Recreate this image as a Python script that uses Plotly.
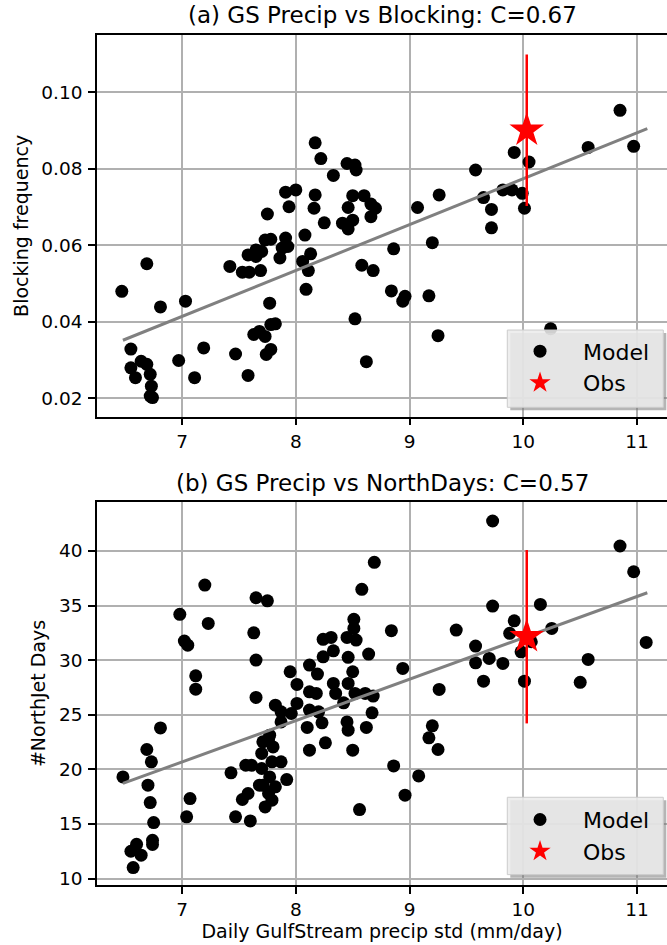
import plotly.graph_objects as go

# ---------------- data ----------------
blk_x = [6.47, 6.69, 6.81, 7.03, 6.55, 6.55, 6.59, 6.64, 6.69, 6.72, 6.73, 6.72, 6.74,
         6.97, 7.11, 7.19, 7.47, 7.58, 7.42, 7.53, 7.59, 7.69, 7.58, 7.65, 7.70, 7.65,
         7.73, 7.78, 7.75, 7.77, 7.63, 7.68, 7.73, 7.78, 7.82, 7.78, 7.74, 7.86, 7.88,
         7.91, 7.93, 7.91, 8.00, 7.94, 8.08, 8.06, 8.13, 8.11, 8.09, 8.17, 8.22, 8.17,
         8.16, 8.25, 8.33, 8.45, 8.52, 8.53, 8.50, 8.60, 8.46, 8.66, 8.70, 8.66, 8.41,
         8.46, 8.50, 8.58, 8.68, 8.52, 8.62, 8.86, 8.84, 9.07, 9.26, 9.20, 8.94, 8.96,
         9.17, 9.25, 9.58, 9.65, 9.72, 9.72, 9.82, 9.90, 9.92, 9.99, 10.01, 10.05, 10.24,
         10.57, 10.85, 10.97]
blk_y = [0.0480, 0.0552, 0.0439, 0.0454, 0.0329, 0.0280, 0.0254, 0.0297, 0.0289, 0.0263,
         0.0232, 0.0206, 0.0202, 0.0299, 0.0254, 0.0332, 0.0316, 0.0260, 0.0545, 0.0530,
         0.0530, 0.0534, 0.0575, 0.0571, 0.0584, 0.0588, 0.0614, 0.0616, 0.0682, 0.0449,
         0.0367, 0.0375, 0.0362, 0.0393, 0.0395, 0.0328, 0.0315, 0.0567, 0.0593, 0.0619,
         0.0597, 0.0739, 0.0745, 0.0701, 0.0627, 0.0558, 0.0578, 0.0534, 0.0485, 0.0868,
         0.0827, 0.0732, 0.0697, 0.0659, 0.0783, 0.0814, 0.0810, 0.0797, 0.0730, 0.0730,
         0.0699, 0.0708, 0.0697, 0.0675, 0.0658, 0.0643, 0.0666, 0.0548, 0.0534, 0.0408,
         0.0296, 0.0591, 0.0481, 0.0699, 0.0732, 0.0607, 0.0454, 0.0467, 0.0468, 0.0364,
         0.0797, 0.0725, 0.0694, 0.0646, 0.0745, 0.0745, 0.0843, 0.0736, 0.0697, 0.0818,
         0.0382, 0.0856, 0.0953, 0.0859]

nj_x = [6.48, 6.57, 6.55, 6.60, 6.64, 6.69, 6.73, 6.70, 6.72, 6.75, 6.74, 6.74, 6.81,
        6.98, 7.02, 7.05, 7.12, 7.12, 7.07, 7.04, 7.20, 7.23, 7.65, 7.75, 7.63, 7.65,
        7.65, 7.43, 7.47, 7.60, 7.53, 7.58, 7.56, 7.61, 7.70, 7.70, 7.71, 7.76, 7.80,
        7.77, 7.87, 7.79, 7.77, 7.71, 7.68, 7.82, 7.76, 7.79, 7.73, 7.92, 7.82, 7.87,
        7.87, 7.95, 8.01, 8.01, 7.96, 8.10, 8.12, 8.12, 8.12, 8.18, 8.19, 8.12, 8.20,
        8.23, 8.26, 8.24, 8.31, 8.33, 8.24, 8.33, 8.35, 8.42, 8.46, 8.50, 8.52, 8.45,
        8.46, 8.50, 8.46, 8.45, 8.51, 8.51, 8.53, 8.58, 8.69, 8.64, 8.61, 8.68, 8.67,
        8.62, 8.56, 8.84, 8.86, 9.73, 8.94, 8.96, 9.08, 9.26, 9.20, 9.17, 9.25, 9.41,
        9.58, 9.58, 9.70, 9.65, 9.82, 9.73, 9.92, 9.88, 9.98, 10.07, 10.01, 10.15, 10.25,
        10.50, 10.57, 10.85, 10.97, 11.08]
nj_y = [19.31, 11.01, 12.50, 13.14, 12.14, 21.82, 20.69, 18.55, 16.96, 15.13, 13.51, 13.12,
        23.80, 34.20, 31.75, 31.38, 28.57, 27.35, 17.33, 15.65, 36.88, 33.37, 35.72, 35.44,
        32.51, 30.01, 26.59, 19.68, 15.65, 15.28, 17.24, 17.79, 20.38, 20.38, 20.08, 21.46,
        22.52, 22.68, 22.06, 23.13, 20.69, 20.69, 19.31, 18.55, 18.55, 18.40, 17.79, 17.18,
        16.56, 19.07, 25.88, 25.27, 24.35, 28.94, 27.78, 26.04, 25.12, 23.84, 21.76, 29.55,
        27.10, 26.96, 28.73, 25.43, 25.27, 24.26, 22.43, 31.91, 32.09, 30.86, 30.31, 27.87,
        26.96, 26.10, 27.87, 28.94, 26.96, 24.35, 23.59, 21.76, 30.26, 32.09, 33.74, 32.91,
        31.84, 36.49, 38.96, 30.56, 26.96, 26.71, 25.18, 23.84, 16.32, 32.70, 20.32, 42.75,
        29.25, 17.64, 19.40, 27.32, 23.99, 22.89, 21.82, 32.76, 31.29, 29.76, 30.16, 28.08,
        29.70, 34.96, 33.61, 32.46, 30.77, 31.69, 28.08, 35.11, 32.91, 27.97, 30.07, 40.46,
        38.10, 31.63]

# regression lines (end points)
fit_x = [6.48, 11.09]
fit_blk = [0.0352, 0.0905]
fit_nj = [18.71, 36.18]

# observations with error bars
obs_x = [10.03]
obs_blk = [0.0901]
obs_blk_err = [0.0198]
obs_nj = [32.15]
obs_nj_err = [7.94]

x_ticks = [7, 8, 9, 10, 11]
blk_ticks = [0.02, 0.04, 0.06, 0.08, 0.10]
blk_tick_text = ["0.02", "0.04", "0.06", "0.08", "0.10"]
nj_ticks = [10, 15, 20, 25, 30, 35, 40]

titles = ["(a) GS Precip vs Blocking: C=0.67", "(b) GS Precip vs NorthDays: C=0.57"]

# ---------------- figure ----------------
FONT = "DejaVu Sans"
fig = go.Figure()

def add_panel(xa, ya, leg, xs, ys, fy, oy, oerr):
    fig.add_trace(go.Scatter(x=xs, y=ys, mode="markers", name="Model",
                             marker=dict(color="black", size=13, line=dict(width=0)),
                             xaxis=xa, yaxis=ya, legend=leg))
    fig.add_trace(go.Scatter(x=fit_x, y=fy, mode="lines", showlegend=False,
                             line=dict(color="#808080", width=3),
                             xaxis=xa, yaxis=ya))
    fig.add_trace(go.Scatter(x=obs_x, y=oy, mode="markers", name="Obs",
                             marker=dict(color="red", size=26, symbol="star", line=dict(width=0)),
                             error_y=dict(type="data", array=oerr, color="red",
                                          thickness=2.5, width=0),
                             xaxis=xa, yaxis=ya, legend=leg))

add_panel("x", "y", "legend", blk_x, blk_y, fit_blk, obs_blk, obs_blk_err)
add_panel("x2", "y2", "legend2", nj_x, nj_y, fit_nj, obs_nj, obs_nj_err)

axis_common = dict(showline=True, linecolor="black", linewidth=1.5,
                   ticks="outside", ticklen=7, tickwidth=1.5, tickcolor="black",
                   showgrid=True, gridcolor="#b0b0b0", gridwidth=1.5,
                   zeroline=False,
                   tickfont=dict(family=FONT, size=18.5, color="black"))

XR = [6.252, 11.263]
leg_common = dict(xanchor="left", yanchor="middle", bgcolor="rgba(0,0,0,0)",
                  borderwidth=0, itemsizing="trace", itemwidth=76,
                  font=dict(family=FONT, size=22))
fig.update_layout(
    width=667, height=945,
    margin=dict(l=97, r=0, t=35, b=60),
    paper_bgcolor="white", plot_bgcolor="white",
    font=dict(family=FONT, color="black"),
    xaxis=dict(axis_common, domain=[0, 1], anchor="y", range=XR, tickvals=x_ticks,
               mirror=True),
    yaxis=dict(axis_common, domain=[0.5509, 1], anchor="x", range=[0.0152, 0.1150],
               tickvals=blk_ticks, ticktext=blk_tick_text, mirror=False,
               ticklabelstandoff=2,
               title=dict(text="Blocking frequency", font=dict(family=FONT, size=19),
                          standoff=8)),
    xaxis2=dict(axis_common, domain=[0, 1], anchor="y2", range=XR, tickvals=x_ticks,
                mirror=True,
                title=dict(text="Daily GulfStream precip std (mm/day)",
                           font=dict(family=FONT, size=19), standoff=6)),
    yaxis2=dict(axis_common, domain=[0, 0.4506], anchor="x2", range=[9.41, 44.49],
                tickvals=nj_ticks, mirror=False, ticklabelstandoff=2,
                title=dict(text="#NorthJet Days", font=dict(family=FONT, size=19),
                           standoff=8)),
    legend=dict(leg_common, x=0.7018, y=0.609),
    legend2=dict(leg_common, x=0.7018, y=0.058),
    showlegend=True,
)

# panel titles
for txt, yp in zip(titles, [1.0235, 0.473]):
    fig.add_annotation(text=txt, xref="paper", yref="paper", x=0.5, y=yp,
                       xanchor="center", yanchor="middle", showarrow=False,
                       font=dict(family=FONT, size=23, color="black"))

# legend frames with shadow (matplotlib-like)
def legend_box(x0, x1, y0, y1):
    dx = 3 / 570
    dy = 3 / 850
    fig.add_shape(type="rect", xref="paper", yref="paper",
                  x0=x0 + dx, x1=x1 + dx, y0=y0 - dy, y1=y1 - dy,
                  fillcolor="rgba(120,120,120,0.55)", line=dict(width=0), layer="above")
    fig.add_shape(type="rect", xref="paper", yref="paper",
                  x0=x0, x1=x1, y0=y0, y1=y1,
                  fillcolor="rgba(236,236,236,0.88)",
                  line=dict(color="#cccccc", width=1), layer="above")

legend_box(0.7198, 0.9935, 0.5620, 0.6529)
legend_box(0.7198, 0.9935, 0.0122, 0.1032)

fig.write_html("out.html",
               config={"displayModeBar": False},
               post_script="document.body.style.margin='0';"
                           "document.body.style.padding='0';"
                           "document.documentElement.style.margin='0';")
